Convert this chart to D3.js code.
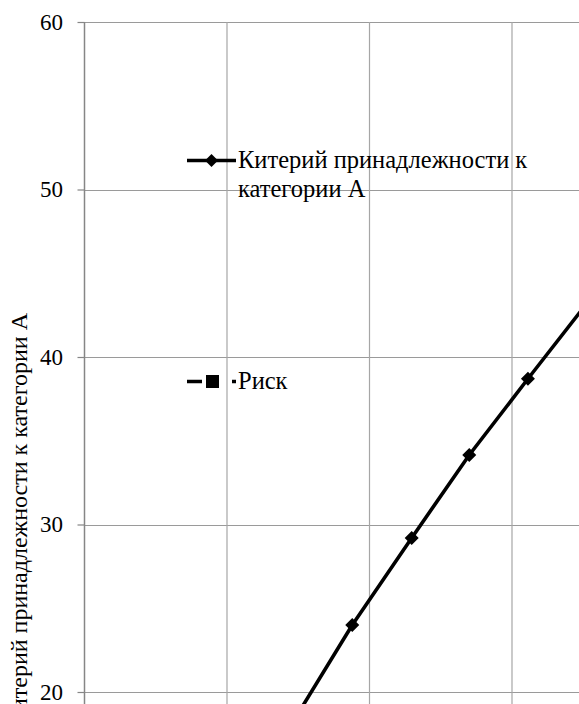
<!DOCTYPE html>
<html>
<head>
<meta charset="utf-8">
<script src="https://cdn.jsdelivr.net/npm/d3@7"></script>
<style>
  html, body { margin: 0; padding: 0; background: #fff; overflow: hidden; }
  svg text { fill: #000; }
</style>
</head>
<body>
<svg id="chart" width="579" height="704"></svg>
<script>
// Series and axis data
const seriesName = "Китерий принадлежности к категории А";
const riskName = "Риск";
const axisTitle = "Китерий принадлежности к категории А";
const xValues = [1.469, 1.879, 2.296, 2.700, 3.112, 3.525];
const yValues = [18.3, 24.0, 29.2, 34.15, 38.7, 43.2];
const yTicks = [0, 10, 20, 30, 40, 50, 60];
const xGrid = [0, 1, 2, 3, 4];

const FONT = '"Liberation Serif", Tinos, "Times New Roman", Times, serif';
const FS = 24;
const svg = d3.select("#chart");

const x = d3.scaleLinear().domain([0, 4]).range([84.5, 654.5]);
const y = d3.scaleLinear().domain([20, 60]).range([692, 22]);

const plotTop = y(60), plotBottom = y(0), plotLeft = x(0), plotRight = x(4);

// Clip region for the plot area
svg.append("defs").append("clipPath").attr("id", "plot-clip")
  .append("rect")
  .attr("x", plotLeft).attr("y", plotTop - 10)
  .attr("width", plotRight - plotLeft).attr("height", plotBottom - plotTop + 10);

// Horizontal gridlines
svg.append("g").selectAll("line").data(yTicks).join("line")
  .attr("x1", plotLeft).attr("x2", plotRight)
  .attr("y1", d => Math.round(y(d)) + 0.5).attr("y2", d => Math.round(y(d)) + 0.5)
  .attr("stroke", "#9a9a9a").attr("stroke-width", 1.2);

// Vertical gridlines
svg.append("g").selectAll("line").data(xGrid.slice(1)).join("line")
  .attr("x1", d => x(d)).attr("x2", d => x(d))
  .attr("y1", plotTop).attr("y2", plotBottom)
  .attr("stroke", "#a6a6a6").attr("stroke-width", 1.2);

// Y axis
const yAxis = d3.axisLeft(y).tickValues(yTicks).tickSize(7).tickPadding(14.5)
  .tickFormat(d3.format("d"));
const gy = svg.append("g").attr("transform", `translate(${plotLeft},0)`).call(yAxis)
  .attr("font-family", FONT).attr("font-size", 23);
gy.select(".domain").remove();
gy.selectAll(".tick line").attr("stroke", "#868686").attr("stroke-width", 1.2);
gy.selectAll(".tick text").attr("fill", "#000");
svg.append("line")
  .attr("x1", plotLeft).attr("x2", plotLeft)
  .attr("y1", plotTop).attr("y2", plotBottom)
  .attr("stroke", "#868686").attr("stroke-width", 1.5);

// Y axis title
svg.append("text")
  .attr("transform", `translate(27,313) rotate(-90)`)
  .attr("text-anchor", "end")
  .attr("font-family", FONT).attr("font-size", FS)
  .text(axisTitle);

// Series line and markers
const pts = xValues.map((v, i) => [v, yValues[i]]);
const plot = svg.append("g").attr("clip-path", "url(#plot-clip)");
plot.append("path")
  .datum(pts)
  .attr("d", d3.line().x(d => x(d[0])).y(d => y(d[1])))
  .attr("fill", "none").attr("stroke", "#000").attr("stroke-width", 3.6)
  .attr("stroke-linejoin", "round");
const diamond = "M0,-7L7,0L0,7L-7,0Z";
plot.selectAll("path.marker").data(pts).join("path")
  .attr("class", "marker")
  .attr("d", diamond)
  .attr("transform", d => `translate(${x(d[0])},${y(d[1])})`)
  .attr("fill", "#000");

// Legend
const leg = svg.append("g").attr("font-family", FONT).attr("font-size", 24.5);
leg.append("line").attr("x1", 187).attr("x2", 236).attr("y1", 160.5).attr("y2", 160.5)
  .attr("stroke", "#000").attr("stroke-width", 3.6);
leg.append("path").attr("d", "M0,-6.5L6.5,0L0,6.5L-6.5,0Z")
  .attr("transform", "translate(211.5,160.5)").attr("fill", "#000");
const words = seriesName.split(" ");
const t1 = leg.append("text").attr("x", 238).attr("y", 168);
t1.append("tspan").attr("x", 238).attr("y", 168).text(words.slice(0, 3).join(" "));
t1.append("tspan").attr("x", 238).attr("y", 197).text(words.slice(3).join(" "));

leg.append("line").attr("x1", 187).attr("x2", 236).attr("y1", 381.5).attr("y2", 381.5)
  .attr("stroke", "#000").attr("stroke-width", 3.6)
  .attr("stroke-dasharray", "15 30 4");
leg.append("rect").attr("x", 206).attr("y", 375).attr("width", 13).attr("height", 13)
  .attr("fill", "#000");
leg.append("text").attr("x", 238).attr("y", 389).text(riskName);
</script>
</body>
</html>
